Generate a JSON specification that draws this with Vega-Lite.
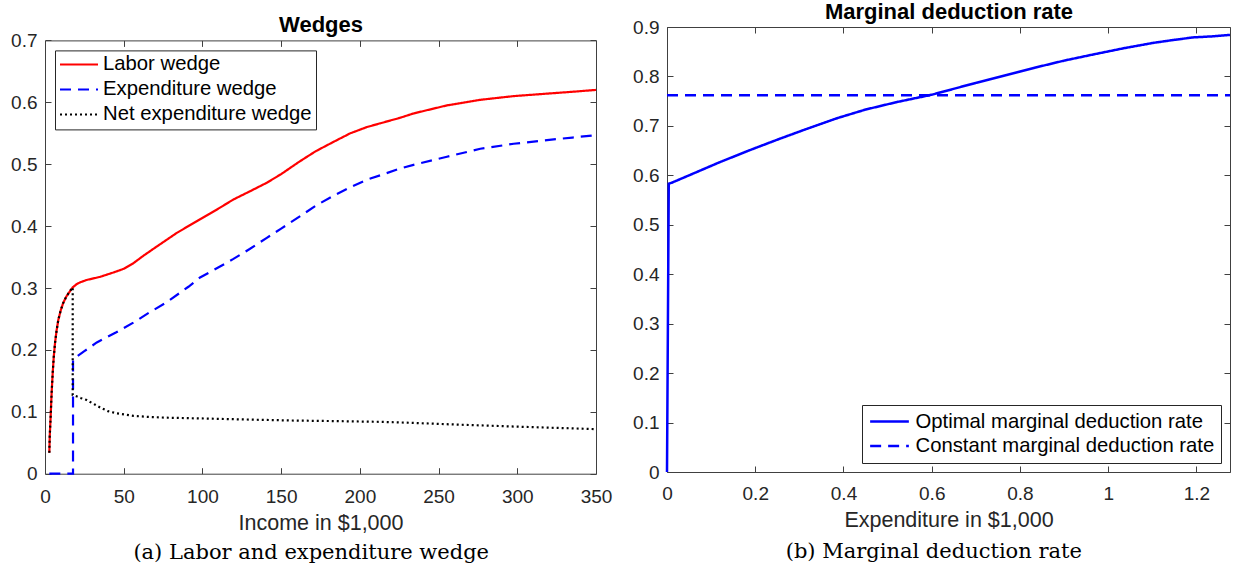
{
 "$schema": "https://vega.github.io/schema/vega-lite/v6.json",
 "background": "white",
 "padding": {"left": 10, "top": 0, "right": 0, "bottom": 0},
 "spacing": 20,
 "resolve": {"scale": {"color": "independent", "strokeDash": "independent"}, "legend": {"color": "independent", "strokeDash": "independent"}},
 "config": {
  "view": {"stroke": null},
  "font": "Liberation Sans",
  "axis": {"grid": false, "domainColor": "#404040", "tickColor": "#404040", "tickSize": -6, "labelFont": "Liberation Sans", "labelFontSize": 19, "labelColor": "#262626", "titleFont": "Liberation Sans", "titleFontSize": 21.5, "titleFontWeight": "normal", "titleColor": "#262626", "titlePadding": 6, "labelFlush": false, "labelOverlap": false},
  "title": {"font": "DejaVu Serif", "fontSize": 21, "fontWeight": "normal", "color": "#000000"}
 },
 "datasets": {
  "wedges": [
   {"series": "Labor wedge", "i": 0, "x": 2.75, "y": 0.034},
   {"series": "Labor wedge", "i": 1, "x": 3.0, "y": 0.06},
   {"series": "Labor wedge", "i": 2, "x": 3.6, "y": 0.093},
   {"series": "Labor wedge", "i": 3, "x": 4.2, "y": 0.13},
   {"series": "Labor wedge", "i": 4, "x": 4.9, "y": 0.163},
   {"series": "Labor wedge", "i": 5, "x": 5.6, "y": 0.19},
   {"series": "Labor wedge", "i": 6, "x": 6.4, "y": 0.212},
   {"series": "Labor wedge", "i": 7, "x": 7.4, "y": 0.232},
   {"series": "Labor wedge", "i": 8, "x": 8.5, "y": 0.249},
   {"series": "Labor wedge", "i": 9, "x": 10, "y": 0.264},
   {"series": "Labor wedge", "i": 10, "x": 11.6, "y": 0.276},
   {"series": "Labor wedge", "i": 11, "x": 13.5, "y": 0.286},
   {"series": "Labor wedge", "i": 12, "x": 15.9, "y": 0.295},
   {"series": "Labor wedge", "i": 13, "x": 17.6, "y": 0.301},
   {"series": "Labor wedge", "i": 14, "x": 20, "y": 0.306},
   {"series": "Labor wedge", "i": 15, "x": 22.2, "y": 0.309},
   {"series": "Labor wedge", "i": 16, "x": 26.5, "y": 0.313},
   {"series": "Labor wedge", "i": 17, "x": 35, "y": 0.318},
   {"series": "Labor wedge", "i": 18, "x": 43.4, "y": 0.325},
   {"series": "Labor wedge", "i": 19, "x": 50, "y": 0.331},
   {"series": "Labor wedge", "i": 20, "x": 56.1, "y": 0.34},
   {"series": "Labor wedge", "i": 21, "x": 63, "y": 0.353},
   {"series": "Labor wedge", "i": 22, "x": 71, "y": 0.367},
   {"series": "Labor wedge", "i": 23, "x": 83.7, "y": 0.389},
   {"series": "Labor wedge", "i": 24, "x": 98.5, "y": 0.411},
   {"series": "Labor wedge", "i": 25, "x": 110, "y": 0.428},
   {"series": "Labor wedge", "i": 26, "x": 119.7, "y": 0.443},
   {"series": "Labor wedge", "i": 27, "x": 130, "y": 0.456},
   {"series": "Labor wedge", "i": 28, "x": 140.9, "y": 0.47},
   {"series": "Labor wedge", "i": 29, "x": 150, "y": 0.484},
   {"series": "Labor wedge", "i": 30, "x": 162.1, "y": 0.505},
   {"series": "Labor wedge", "i": 31, "x": 172, "y": 0.521},
   {"series": "Labor wedge", "i": 32, "x": 183.2, "y": 0.536},
   {"series": "Labor wedge", "i": 33, "x": 194, "y": 0.55},
   {"series": "Labor wedge", "i": 34, "x": 204.5, "y": 0.56},
   {"series": "Labor wedge", "i": 35, "x": 212.9, "y": 0.566},
   {"series": "Labor wedge", "i": 36, "x": 225.6, "y": 0.575},
   {"series": "Labor wedge", "i": 37, "x": 234.1, "y": 0.582},
   {"series": "Labor wedge", "i": 38, "x": 255.3, "y": 0.595},
   {"series": "Labor wedge", "i": 39, "x": 276.5, "y": 0.604},
   {"series": "Labor wedge", "i": 40, "x": 297.7, "y": 0.61},
   {"series": "Labor wedge", "i": 41, "x": 318.9, "y": 0.614},
   {"series": "Labor wedge", "i": 42, "x": 335, "y": 0.617},
   {"series": "Labor wedge", "i": 43, "x": 350, "y": 0.62},
   {"series": "Expenditure wedge", "i": 0, "x": 2.75, "y": 0},
   {"series": "Expenditure wedge", "i": 1, "x": 17.8, "y": 0},
   {"series": "Expenditure wedge", "i": 2, "x": 17.8, "y": 0.185},
   {"series": "Expenditure wedge", "i": 3, "x": 25, "y": 0.198},
   {"series": "Expenditure wedge", "i": 4, "x": 32.9, "y": 0.212},
   {"series": "Expenditure wedge", "i": 5, "x": 45, "y": 0.228},
   {"series": "Expenditure wedge", "i": 6, "x": 56.1, "y": 0.244},
   {"series": "Expenditure wedge", "i": 7, "x": 66, "y": 0.26},
   {"series": "Expenditure wedge", "i": 8, "x": 77.3, "y": 0.277},
   {"series": "Expenditure wedge", "i": 9, "x": 91.1, "y": 0.302},
   {"series": "Expenditure wedge", "i": 10, "x": 98.5, "y": 0.317},
   {"series": "Expenditure wedge", "i": 11, "x": 110, "y": 0.333},
   {"series": "Expenditure wedge", "i": 12, "x": 119.7, "y": 0.347},
   {"series": "Expenditure wedge", "i": 13, "x": 130, "y": 0.363},
   {"series": "Expenditure wedge", "i": 14, "x": 140.9, "y": 0.381},
   {"series": "Expenditure wedge", "i": 15, "x": 150, "y": 0.396},
   {"series": "Expenditure wedge", "i": 16, "x": 162.1, "y": 0.416},
   {"series": "Expenditure wedge", "i": 17, "x": 172, "y": 0.433},
   {"series": "Expenditure wedge", "i": 18, "x": 183.2, "y": 0.449},
   {"series": "Expenditure wedge", "i": 19, "x": 194, "y": 0.463},
   {"series": "Expenditure wedge", "i": 20, "x": 204.5, "y": 0.475},
   {"series": "Expenditure wedge", "i": 21, "x": 212.9, "y": 0.482},
   {"series": "Expenditure wedge", "i": 22, "x": 225.6, "y": 0.493},
   {"series": "Expenditure wedge", "i": 23, "x": 234.1, "y": 0.499},
   {"series": "Expenditure wedge", "i": 24, "x": 255.3, "y": 0.512},
   {"series": "Expenditure wedge", "i": 25, "x": 276.5, "y": 0.525},
   {"series": "Expenditure wedge", "i": 26, "x": 297.7, "y": 0.533},
   {"series": "Expenditure wedge", "i": 27, "x": 318.9, "y": 0.539},
   {"series": "Expenditure wedge", "i": 28, "x": 335, "y": 0.543},
   {"series": "Expenditure wedge", "i": 29, "x": 350, "y": 0.547},
   {"series": "Net expenditure wedge", "i": 0, "x": 2.75, "y": 0.034},
   {"series": "Net expenditure wedge", "i": 1, "x": 3.0, "y": 0.06},
   {"series": "Net expenditure wedge", "i": 2, "x": 3.6, "y": 0.093},
   {"series": "Net expenditure wedge", "i": 3, "x": 4.2, "y": 0.13},
   {"series": "Net expenditure wedge", "i": 4, "x": 4.9, "y": 0.163},
   {"series": "Net expenditure wedge", "i": 5, "x": 5.6, "y": 0.19},
   {"series": "Net expenditure wedge", "i": 6, "x": 6.4, "y": 0.212},
   {"series": "Net expenditure wedge", "i": 7, "x": 7.4, "y": 0.232},
   {"series": "Net expenditure wedge", "i": 8, "x": 8.5, "y": 0.249},
   {"series": "Net expenditure wedge", "i": 9, "x": 10, "y": 0.264},
   {"series": "Net expenditure wedge", "i": 10, "x": 11.6, "y": 0.276},
   {"series": "Net expenditure wedge", "i": 11, "x": 13.5, "y": 0.286},
   {"series": "Net expenditure wedge", "i": 12, "x": 15.9, "y": 0.295},
   {"series": "Net expenditure wedge", "i": 13, "x": 17.6, "y": 0.301},
   {"series": "Net expenditure wedge", "i": 14, "x": 17.6, "y": 0.127},
   {"series": "Net expenditure wedge", "i": 15, "x": 20, "y": 0.125},
   {"series": "Net expenditure wedge", "i": 16, "x": 23, "y": 0.122},
   {"series": "Net expenditure wedge", "i": 17, "x": 26.5, "y": 0.119},
   {"series": "Net expenditure wedge", "i": 18, "x": 30, "y": 0.114},
   {"series": "Net expenditure wedge", "i": 19, "x": 35, "y": 0.107},
   {"series": "Net expenditure wedge", "i": 20, "x": 40, "y": 0.101},
   {"series": "Net expenditure wedge", "i": 21, "x": 45.6, "y": 0.0975},
   {"series": "Net expenditure wedge", "i": 22, "x": 56.1, "y": 0.0935},
   {"series": "Net expenditure wedge", "i": 23, "x": 65, "y": 0.0918},
   {"series": "Net expenditure wedge", "i": 24, "x": 77.3, "y": 0.0905},
   {"series": "Net expenditure wedge", "i": 25, "x": 98.5, "y": 0.0893},
   {"series": "Net expenditure wedge", "i": 26, "x": 120, "y": 0.088},
   {"series": "Net expenditure wedge", "i": 27, "x": 140.9, "y": 0.0868},
   {"series": "Net expenditure wedge", "i": 28, "x": 160, "y": 0.0858},
   {"series": "Net expenditure wedge", "i": 29, "x": 183.2, "y": 0.085},
   {"series": "Net expenditure wedge", "i": 30, "x": 212.9, "y": 0.0838},
   {"series": "Net expenditure wedge", "i": 31, "x": 225.6, "y": 0.0828},
   {"series": "Net expenditure wedge", "i": 32, "x": 260, "y": 0.0795},
   {"series": "Net expenditure wedge", "i": 33, "x": 300, "y": 0.076},
   {"series": "Net expenditure wedge", "i": 34, "x": 350, "y": 0.072}
  ],
  "mdr": [
   {"series": "Optimal marginal deduction rate", "i": 0, "x": 0, "y": 0},
   {"series": "Optimal marginal deduction rate", "i": 1, "x": 0.004, "y": 0.583},
   {"series": "Optimal marginal deduction rate", "i": 2, "x": 0.0107, "y": 0.585},
   {"series": "Optimal marginal deduction rate", "i": 3, "x": 0.05, "y": 0.6},
   {"series": "Optimal marginal deduction rate", "i": 4, "x": 0.118, "y": 0.626},
   {"series": "Optimal marginal deduction rate", "i": 5, "x": 0.185, "y": 0.65},
   {"series": "Optimal marginal deduction rate", "i": 6, "x": 0.2526, "y": 0.673},
   {"series": "Optimal marginal deduction rate", "i": 7, "x": 0.32, "y": 0.695},
   {"series": "Optimal marginal deduction rate", "i": 8, "x": 0.387, "y": 0.716},
   {"series": "Optimal marginal deduction rate", "i": 9, "x": 0.45, "y": 0.733},
   {"series": "Optimal marginal deduction rate", "i": 10, "x": 0.52, "y": 0.748},
   {"series": "Optimal marginal deduction rate", "i": 11, "x": 0.6, "y": 0.763},
   {"series": "Optimal marginal deduction rate", "i": 12, "x": 0.7, "y": 0.787},
   {"series": "Optimal marginal deduction rate", "i": 13, "x": 0.77, "y": 0.803},
   {"series": "Optimal marginal deduction rate", "i": 14, "x": 0.835, "y": 0.818},
   {"series": "Optimal marginal deduction rate", "i": 15, "x": 0.9, "y": 0.832},
   {"series": "Optimal marginal deduction rate", "i": 16, "x": 0.969, "y": 0.845},
   {"series": "Optimal marginal deduction rate", "i": 17, "x": 1.035, "y": 0.857},
   {"series": "Optimal marginal deduction rate", "i": 18, "x": 1.103, "y": 0.868},
   {"series": "Optimal marginal deduction rate", "i": 19, "x": 1.15, "y": 0.874},
   {"series": "Optimal marginal deduction rate", "i": 20, "x": 1.193, "y": 0.879},
   {"series": "Optimal marginal deduction rate", "i": 21, "x": 1.235, "y": 0.881},
   {"series": "Optimal marginal deduction rate", "i": 22, "x": 1.276, "y": 0.884},
   {"series": "Constant marginal deduction rate", "i": 0, "x": 0, "y": 0.762},
   {"series": "Constant marginal deduction rate", "i": 1, "x": 1.276, "y": 0.762}
  ]
 },
 "hconcat": [
  {
   "width": 551,
   "height": 446.7,
   "title": {"text": "(a) Labor and expenditure wedge", "orient": "bottom", "offset": 8, "anchor": "middle", "frame": "bounds", "baseline": "top"},
   "data": {"name": "wedges"},
   "layer": [
    {
     "mark": {"type": "line", "strokeWidth": 2.2},
     "encoding": {
      "x": {"field": "x", "type": "quantitative", "scale": {"domain": [0, 350], "nice": false, "zero": false}, "axis": {"orient": "bottom", "values": [0, 50, 100, 150, 200, 250, 300, 350], "labelPadding": 20, "title": "Income in $1,000"}},
      "y": {"field": "y", "type": "quantitative", "scale": {"domain": [0, 0.7], "nice": false, "range": [446.7, 13.4]}, "axis": {"orient": "left", "values": [0, 0.1, 0.2, 0.3, 0.4, 0.5, 0.6, 0.7], "format": ".1~f", "labelPadding": 14, "title": null}},
      "color": {"field": "series", "type": "nominal", "scale": {"domain": ["Labor wedge", "Expenditure wedge", "Net expenditure wedge"], "range": ["#ff0000", "#0000ff", "#000000"]},
       "legend": {"title": null, "orient": "none", "legendX": 10, "legendY": 23.4, "symbolType": "stroke", "symbolSize": 1444, "symbolStrokeWidth": 2, "clipHeight": 20, "labelFontSize": 20.3, "labelFont": "Liberation Sans", "labelColor": "#000000", "rowPadding": 4, "padding": 4, "labelOffset": 4, "strokeColor": "#262626", "fillColor": "#ffffff", "cornerRadius": 0, "labelLimit": 500}},
      "strokeDash": {"field": "series", "type": "nominal", "scale": {"domain": ["Labor wedge", "Expenditure wedge", "Net expenditure wedge"], "range": [[1, 0], [11, 7], [2, 3]]},
       "legend": {"title": null, "orient": "none", "legendX": 10, "legendY": 23.4, "symbolType": "stroke", "symbolSize": 1444, "symbolStrokeWidth": 2, "clipHeight": 20, "labelFontSize": 20.3, "labelFont": "Liberation Sans", "labelColor": "#000000", "rowPadding": 4, "padding": 4, "labelOffset": 4, "strokeColor": "#262626", "fillColor": "#ffffff", "cornerRadius": 0, "labelLimit": 500}},
      "order": {"field": "i", "type": "quantitative"}
     }
    },
    {
     "mark": {"type": "point", "opacity": 0},
     "encoding": {
      "x": {"field": "x", "type": "quantitative", "scale": {"domain": [0, 350], "nice": false, "zero": false}, "axis": {"orient": "top", "offset": -13.4, "values": [0, 50, 100, 150, 200, 250, 300, 350], "labels": false, "title": "Wedges", "titleFont": "Liberation Sans", "titleFontWeight": "bold", "titleFontSize": 22, "titleColor": "#000000", "titlePadding": 8, "titleBaseline": "alphabetic"}},
      "y": {"field": "y", "type": "quantitative", "scale": {"domain": [0, 0.7], "nice": false, "range": [446.7, 13.4]}, "axis": {"orient": "right", "values": [0, 0.1, 0.2, 0.3, 0.4, 0.5, 0.6, 0.7], "labels": false, "title": null}}
     }
    }
   ],
   "resolve": {"axis": {"x": "independent", "y": "independent"}}
  },
  {
   "width": 563,
   "height": 445,
   "title": {"text": "(b) Marginal deduction rate", "orient": "bottom", "offset": 10, "anchor": "middle", "frame": "bounds", "baseline": "top"},
   "data": {"name": "mdr"},
   "layer": [
    {
     "mark": {"type": "line", "strokeWidth": 2.5},
     "encoding": {
      "x": {"field": "x", "type": "quantitative", "scale": {"domain": [0, 1.276], "nice": false, "zero": false}, "axis": {"orient": "bottom", "values": [0, 0.2, 0.4, 0.6, 0.8, 1, 1.2], "format": ".1~f", "labelPadding": 18, "title": "Expenditure in $1,000"}},
      "y": {"field": "y", "type": "quantitative", "scale": {"domain": [0, 0.9], "nice": false}, "axis": {"orient": "left", "values": [0, 0.1, 0.2, 0.3, 0.4, 0.5, 0.6, 0.7, 0.8, 0.9], "format": ".1~f", "labelPadding": 14, "title": null}},
      "color": {"field": "series", "type": "nominal", "scale": {"domain": ["Optimal marginal deduction rate", "Constant marginal deduction rate"], "range": ["#0000ff", "#0000ff"]},
       "legend": {"title": null, "orient": "bottom-right", "offset": 9, "symbolType": "stroke", "symbolSize": 1500, "symbolStrokeWidth": 2.5, "clipHeight": 20, "labelFontSize": 20.3, "labelFont": "Liberation Sans", "labelColor": "#000000", "rowPadding": 3.5, "padding": 6.5, "labelOffset": 5, "strokeColor": "#262626", "fillColor": "#ffffff", "cornerRadius": 0, "labelLimit": 500}},
      "strokeDash": {"field": "series", "type": "nominal", "scale": {"domain": ["Optimal marginal deduction rate", "Constant marginal deduction rate"], "range": [[1, 0], [11, 7]]},
       "legend": {"title": null, "orient": "bottom-right", "offset": 9, "symbolType": "stroke", "symbolSize": 1500, "symbolStrokeWidth": 2.5, "clipHeight": 20, "labelFontSize": 20.3, "labelFont": "Liberation Sans", "labelColor": "#000000", "rowPadding": 3.5, "padding": 6.5, "labelOffset": 5, "strokeColor": "#262626", "fillColor": "#ffffff", "cornerRadius": 0, "labelLimit": 500}},
      "order": {"field": "i", "type": "quantitative"}
     }
    },
    {
     "mark": {"type": "point", "opacity": 0},
     "encoding": {
      "x": {"field": "x", "type": "quantitative", "scale": {"domain": [0, 1.276], "nice": false, "zero": false}, "axis": {"orient": "top", "values": [0, 0.2, 0.4, 0.6, 0.8, 1, 1.2], "labels": false, "title": "Marginal deduction rate", "titleFont": "Liberation Sans", "titleFontWeight": "bold", "titleFontSize": 22, "titleColor": "#000000", "titlePadding": 8, "titleBaseline": "alphabetic"}},
      "y": {"field": "y", "type": "quantitative", "scale": {"domain": [0, 0.9], "nice": false}, "axis": {"orient": "right", "values": [0, 0.1, 0.2, 0.3, 0.4, 0.5, 0.6, 0.7, 0.8, 0.9], "labels": false, "title": null}}
     }
    }
   ],
   "resolve": {"axis": {"x": "independent", "y": "independent"}}
  }
 ]
}
